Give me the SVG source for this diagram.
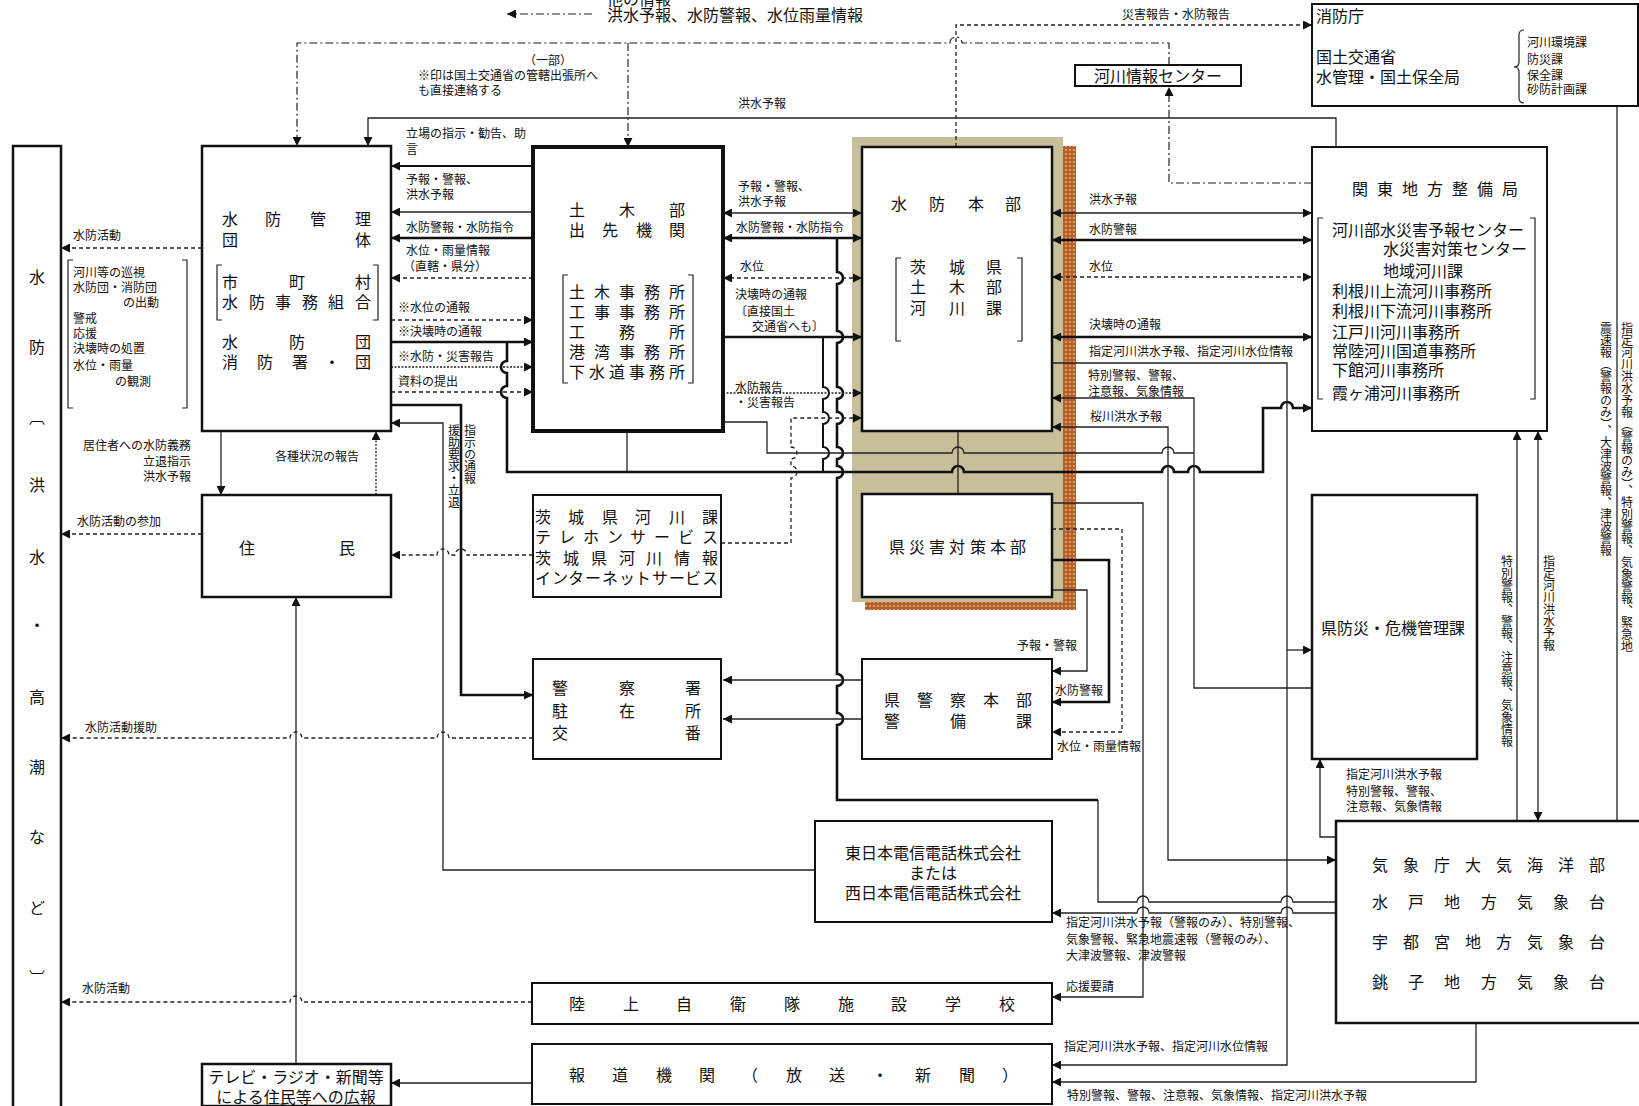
<svg xmlns="http://www.w3.org/2000/svg" width="1639" height="1106" viewBox="0 0 1639 1106">
<defs>
<style>
text{font-family:"Noto Sans CJK JP","Noto Sans CJK SC",sans-serif;fill:#111}
.b{font-size:16px}
.s{font-size:12px}
.v{writing-mode:vertical-rl}
.m{text-anchor:middle}
.box{fill:#fff;stroke:#111;stroke-width:2.5}
.bx2{fill:#fff;stroke:#111;stroke-width:2}
.bk{fill:none;stroke:#222;stroke-width:1.2}
.th{fill:none;stroke:#222;stroke-width:1.3}
.md{fill:none;stroke:#111;stroke-width:2}
.tk{fill:none;stroke:#111;stroke-width:2.6}
.ds{fill:none;stroke:#222;stroke-width:1.3;stroke-dasharray:4 3}
.dt{fill:none;stroke:#222;stroke-width:1.3;stroke-dasharray:2 1.5}
.dd{fill:none;stroke:#222;stroke-width:1.2;stroke-dasharray:8 3 2 3}
.e{marker-end:url(#ar)}
.st{marker-start:url(#ar)}
</style>
<marker id="ar" viewBox="0 0 10 10" refX="10" refY="5" markerWidth="10" markerHeight="9" markerUnits="userSpaceOnUse" orient="auto-start-reverse"><path d="M0,0L10,5L0,10z" fill="#111"/></marker>
<pattern id="brick" width="4" height="4" patternUnits="userSpaceOnUse"><rect width="4" height="4" fill="#b5602a"/><rect x="1" y="1" width="2" height="2" fill="#d99a6c"/></pattern>
</defs>
<rect width="1639" height="1106" fill="#fff"/>

<!-- legend -->
<g id="legend">
<text class="b" x="607" y="5">他の情報</text>
<text class="b" x="607" y="21">洪水予報、水防警報、水位雨量情報</text>
<path class="dd e" d="M592,14 H507"/>
</g>

<!-- background of 水防本部 -->
<g id="hq-bg">
<rect x="852" y="137" width="211" height="465" fill="#c7bf9a"/>
<rect x="1063" y="146" width="13" height="464" fill="url(#brick)"/>
<rect x="865" y="602" width="211" height="8" fill="url(#brick)"/>
</g>

<!-- connectors -->
<g id="connectors">
<path class="dd e" d="M1169,65 V43 H962 a6,6 0 0 0 -12,0 H297 V146"/>
<path class="dd e" d="M628,43 V147"/>
<path class="dd e" d="M1312,183 H1169 V87"/>
<path class="ds e" d="M956,147 V25 H1312"/>
<path class="th e" d="M1336,147 V118 H368 V146"/>
<path class="md e" d="M533,166 H391"/>
<path class="th e" d="M533,212 H391"/>
<path class="tk e" d="M533,238 H391"/>
<path class="ds e" d="M533,278 H391"/>
<path class="ds e" d="M391,320 H533"/>
<path class="tk e" d="M391,342 H533"/>
<path class="dt e" d="M391,367 H533"/>
<path class="ds e" d="M391,392 H533"/>
<path class="tk e" d="M507,342 V361 a6,6 0 0 0 0,12 V386 a6,6 0 0 0 0,12 V472 H952 a6,6 0 0 1 12,0 H1162 a6,6 0 0 1 12,0 H1188 a6,6 0 0 1 12,0 H1263 V408 H1281 a6,6 0 0 1 12,0 H1312"/>
<path class="th" d="M627,431 V472"/>
<path class="th e st" d="M723,213 H862"/>
<path class="tk e st" d="M723,238 H862"/>
<path class="ds e st" d="M723,278 H862"/>
<path class="tk e" d="M723,337 H862"/>
<path class="tk" d="M837,238 V272 a6,6 0 0 1 0,12 V331 a6,6 0 0 1 0,12 V387 a6,6 0 0 1 0,12 V412 a6,6 0 0 1 0,12 V447 a6,6 0 0 1 0,12 V466 a6,6 0 0 1 0,12 V674 a6,6 0 0 1 0,12 V713 a6,6 0 0 1 0,12 V800 H1098"/>
<path class="th e" d="M1098,800 V902 H1137 a6,6 0 0 1 12,0 H1281 a6,6 0 0 1 12,0 H1358"/>
<path class="md" d="M823,337 V387 a6,6 0 0 1 0,12 V412 a6,6 0 0 1 0,12 V447 a6,6 0 0 1 0,12 V472"/>
<path class="dt e" d="M723,393 H862"/>
<path class="th" d="M723,422 H767 V453 H952 a6,6 0 0 1 12,0 H1162 a6,6 0 0 1 12,0 H1194"/>
<path class="ds e" d="M721,543 H791 V478 a6,6 0 0 0 0,-12 V459 a6,6 0 0 0 0,-12 V418 H862"/>
<path class="ds e" d="M533,555 H467 a6,6 0 0 0 -12,0 H449 a6,6 0 0 0 -12,0 H391"/>
<path class="tk e" d="M391,405 H461 V695 H533"/>
<path class="th e" d="M815,870 H443 V423 H391"/>
<path class="ds e" d="M533,738 H449 a6,6 0 0 0 -12,0 H302 a6,6 0 0 0 -12,0 H61"/>
<path class="th e" d="M862,680 H723"/>
<path class="th e" d="M862,719 H723"/>
<path class="th e" d="M221,431 V495"/>
<path class="dt e" d="M376,495 V431"/>
<path class="ds e" d="M202,534 H61"/>
<path class="ds e" d="M202,248 H61"/>
<path class="ds e" d="M532,1002 H302 a6,6 0 0 0 -12,0 H61"/>
<path class="th e" d="M296,1064 V597"/>
<path class="th e" d="M532,1083 H391"/>
<path class="th e st" d="M1052,213 H1312"/>
<path class="tk e st" d="M1052,240 H1312"/>
<path class="ds e st" d="M1052,277 H1312"/>
<path class="tk e st" d="M1052,337 H1312"/>
<path class="th e" d="M1052,363 H1287 V1065 H1052"/>
<path class="th e" d="M1287,650 H1312"/>
<path class="th e" d="M1312,688 H1194 V398 H1052"/>
<path class="th e st" d="M1336,860 H1168 V427 H1052"/>
<path class="th" d="M958,431 V494"/>
<path class="th e" d="M1052,503 H1143 V997 H1052"/>
<path class="ds e" d="M1052,529 H1122 V732 H1052"/>
<path class="tk e" d="M1052,560 H1109 V702 H1052"/>
<path class="th e" d="M1052,590 H1087 V671 H1052"/>
<path class="th e" d="M1336,913 H1293 a6,6 0 0 0 -12,0 H1149 a6,6 0 0 0 -12,0 H1052"/>
<path class="th e" d="M1336,837 H1320 V759"/>
<path class="th e" d="M1517,821 V431"/>
<path class="th e st" d="M1538,821 V431"/>
<path class="th e" d="M1617,821 V27"/>
<path class="th e" d="M1476,1023 V1082 H1052"/>
</g>

<!-- connector labels -->
<g id="labels" class="s">
<text x="548" y="65" class="m">（一部）</text>
<text x="418" y="80">※印は国土交通省の管轄出張所へ</text>
<text x="418" y="95">も直接連絡する</text>
<text x="738" y="108">洪水予報</text>
<text x="1122" y="19">災害報告・水防報告</text>
<text x="73" y="240">水防活動</text>
<text x="73" y="277">河川等の巡視</text>
<text x="73" y="292">水防団・消防団</text>
<text x="123" y="307">の出動</text>
<text x="73" y="323">警戒</text>
<text x="73" y="338">応援</text>
<text x="73" y="353">決壊時の処置</text>
<text x="73" y="370">水位・雨量</text>
<text x="115" y="386">の観測</text>
<text x="406" y="138">立場の指示・勧告、助</text>
<text x="406" y="154">言</text>
<text x="406" y="184">予報・警報、</text>
<text x="406" y="199">洪水予報</text>
<text x="406" y="232">水防警報・水防指令</text>
<text x="406" y="255">水位・雨量情報</text>
<text x="403" y="271">（直轄・県分）</text>
<text x="398" y="312">※水位の通報</text>
<text x="398" y="336">※決壊時の通報</text>
<text x="398" y="361">※水防・災害報告</text>
<text x="398" y="386">資料の提出</text>
<text x="738" y="191">予報・警報、</text>
<text x="738" y="206">洪水予報</text>
<text x="736" y="232">水防警報・水防指令</text>
<text x="740" y="271">水位</text>
<text x="735" y="299">決壊時の通報</text>
<text x="735" y="316">〔直接国土</text>
<text x="752" y="331">交通省へも〕</text>
<text x="735" y="392">水防報告</text>
<text x="735" y="407">・災害報告</text>
<text x="454" y="424" class="v">援助要求・立退</text>
<text x="470" y="424" class="v">指示の通報</text>
<text x="83" y="450">居住者への水防義務</text>
<text x="143" y="466">立退指示</text>
<text x="143" y="481">洪水予報</text>
<text x="275" y="461">各種状況の報告</text>
<text x="77" y="526">水防活動の参加</text>
<text x="85" y="732">水防活動援助</text>
<text x="82" y="993">水防活動</text>
<text x="1089" y="204">洪水予報</text>
<text x="1089" y="234">水防警報</text>
<text x="1089" y="271">水位</text>
<text x="1089" y="329">決壊時の通報</text>
<text x="1089" y="356">指定河川洪水予報、指定河川水位情報</text>
<text x="1088" y="380">特別警報、警報、</text>
<text x="1088" y="396">注意報、気象情報</text>
<text x="1090" y="421">桜川洪水予報</text>
<text x="1017" y="650">予報・警報</text>
<text x="1055" y="695">水防警報</text>
<text x="1057" y="751">水位・雨量情報</text>
<text x="1066" y="927">指定河川洪水予報（警報のみ）、特別警報、</text>
<text x="1066" y="944">気象警報、緊急地震速報（警報のみ）、</text>
<text x="1066" y="960">大津波警報、津波警報</text>
<text x="1066" y="991">応援要請</text>
<text x="1064" y="1051">指定河川洪水予報、指定河川水位情報</text>
<text x="1067" y="1100">特別警報、警報、注意報、気象情報、指定河川洪水予報</text>
<text x="1346" y="779">指定河川洪水予報</text>
<text x="1346" y="796">特別警報、警報、</text>
<text x="1346" y="811">注意報、気象情報</text>
<text x="1507" y="555" class="v">特別警報、警報、注意報、気象情報</text>
<text x="1549" y="555" class="v">指定河川洪水予報</text>
<text x="1627" y="322" class="v">指定河川洪水予報（警報のみ）、特別警報、気象警報、緊急地</text>
<text x="1606" y="322" class="v">震速報（警報のみ）、大津波警報、津波警報</text>
</g>
<path class="bk" d="M73,260 h-5 v148 h5 M182,260 h5 v148 h-5"/>

<!-- nodes -->
<g id="n-suibo">
<rect class="box" x="13" y="146" width="48" height="962"/>
<g class="b m">
<text x="37" y="283">水</text><text x="37" y="353">防</text><text x="37" y="423">︹</text><text x="37" y="491">洪</text><text x="37" y="563">水</text><text x="37" y="631">・</text><text x="37" y="703">高</text><text x="37" y="773">潮</text><text x="37" y="843">な</text><text x="37" y="914">ど</text><text x="37" y="984">︺</text>
</g>
</g>

<g id="n-kanri">
<rect class="box" x="202" y="146" width="189" height="285"/>
<g class="b m">
<text x="230 273 318 363" y="225">水防管理</text>
<text x="230 363" y="246">団体</text>
<text x="230 297 363" y="288">市町村</text>
<text x="230 257 283 310 336 363" y="308">水防事務組合</text>
<text x="230 297 363" y="348">水防団</text>
<text x="230 265 300 332 363" y="368">消防署・団</text>
</g>
<path class="bk" d="M222,265 h-5 v55 h5 M373,265 h5 v55 h-5"/>
</g>

<g id="n-doboku">
<rect x="533" y="147" width="190" height="284" fill="#fff" stroke="#111" stroke-width="4"/>
<g class="b m">
<text x="577 627 677" y="216">土木部</text>
<text x="577 610 644 677" y="236">出先機関</text>
<text x="577 602 627 652 677" y="298">土木事務所</text>
<text x="577 602 627 652 677" y="318">工事事務所</text>
<text x="577 627 677" y="338">工務所</text>
<text x="577 602 627 652 677" y="358">港湾事務所</text>
<text x="577 597 617 637 657 677" y="378">下水道事務所</text>
</g>
<path class="bk" d="M568,275 h-5 v108 h5 M688,275 h5 v108 h-5"/>
</g>

<g id="n-honbu">
<rect class="box" x="862" y="147" width="190" height="284"/>
<g class="b m">
<text x="899 937 976 1013" y="210">水防本部</text>
<text x="918 957 994" y="273">茨城県</text>
<text x="918 957 994" y="293">土木部</text>
<text x="918 957 994" y="314">河川課</text>
</g>
<path class="bk" d="M901,258 h-5 v83 h5 M1017,258 h5 v83 h-5"/>
</g>

<g id="n-saigai">
<rect class="box" x="862" y="494" width="190" height="103"/>
<text class="b m" x="897 917 937 957 978 998 1018" y="553">県災害対策本部</text>
</g>

<g id="n-kanto">
<rect class="bx2" x="1312" y="147" width="235" height="284"/>
<text class="b m" x="1360 1385 1410 1435 1460 1485 1510" y="195">関東地方整備局</text>
<path class="bk" d="M1323,218 h-5 v181 h5 M1530,218 h5 v181 h-5"/>
<g class="b">
<text x="1332" y="236">河川部水災害予報センター</text>
<text x="1383" y="255">水災害対策センター</text>
<text x="1383" y="277">地域河川課</text>
<text x="1332" y="297">利根川上流河川事務所</text>
<text x="1332" y="317">利根川下流河川事務所</text>
<text x="1332" y="338">江戸川河川事務所</text>
<text x="1332" y="357">常陸河川国道事務所</text>
<text x="1332" y="376">下館河川事務所</text>
<text x="1332" y="399">霞ヶ浦河川事務所</text>
</g>
</g>

<g id="n-shobo">
<rect class="bx2" x="1312" y="4" width="326" height="102"/>
<text class="b" x="1316" y="22">消防庁</text>
<text class="b" x="1316" y="63">国土交通省</text>
<text class="b" x="1316" y="83">水管理・国土保全局</text>
<path class="bk" d="M1524,30 q-5,0 -5,5 v27 q0,5 -5,5 q5,0 5,5 v26 q0,5 5,5"/>
<g class="s">
<text x="1527" y="47">河川環境課</text>
<text x="1527" y="64">防災課</text>
<text x="1527" y="80">保全課</text>
<text x="1527" y="94">砂防計画課</text>
</g>
</g>

<g id="n-center">
<rect class="bx2" x="1075" y="65" width="166" height="21"/>
<text class="b m" x="1158" y="82">河川情報センター</text>
</g>

<g id="n-jumin">
<rect class="box" x="202" y="495" width="189" height="102"/>
<text class="b m" x="247 347" y="554">住民</text>
</g>

<g id="n-tel">
<rect class="bx2" x="533" y="495" width="188" height="102"/>
<g class="b m">
<text x="543 576 610 643 677 710" y="523">茨城県河川課</text>
<text x="543 567 591 615 638 662 686 710" y="543">テレホンサービス</text>
<text x="543 571 599 627 654 682 710" y="564">茨城県河川情報</text>
<text x="543 560 576 593 610 627 643 660 677 693 710" y="584">インターネットサービス</text>
</g>
</g>

<g id="n-police">
<rect class="bx2" x="533" y="659" width="188" height="100"/>
<g class="b m">
<text x="560 627 693" y="694">警察署</text>
<text x="560 627 693" y="717">駐在所</text>
<text x="560 693" y="739">交番</text>
</g>
</g>

<g id="n-kenkei">
<rect class="bx2" x="862" y="659" width="190" height="100"/>
<g class="b m">
<text x="892 925 958 991 1024" y="706">県警察本部</text>
<text x="892 958 1024" y="727">警備課</text>
</g>
</g>

<g id="n-bosai">
<rect class="box" x="1312" y="495" width="165" height="264"/>
<text class="b m" x="1393" y="634">県防災・危機管理課</text>
</g>

<g id="n-ntt">
<rect class="bx2" x="815" y="821" width="237" height="101"/>
<g class="b m">
<text x="933" y="859">東日本電信電話株式会社</text>
<text x="933" y="879">または</text>
<text x="933" y="899">西日本電信電話株式会社</text>
</g>
</g>

<g id="n-kisho">
<rect class="box" x="1336" y="821" width="320" height="202"/>
<g class="b m">
<text x="1380 1411 1442 1473 1504 1535 1566 1597" y="871">気象庁大気海洋部</text>
<text x="1380 1416 1452 1489 1525 1561 1597" y="908">水戸地方気象台</text>
<text x="1380 1411 1442 1473 1504 1535 1566 1597" y="948">宇都宮地方気象台</text>
<text x="1380 1416 1452 1489 1525 1561 1597" y="988">銚子地方気象台</text>
</g>
</g>

<g id="n-jieitai">
<rect class="bx2" x="532" y="983" width="520" height="41"/>
<text class="b m" x="577 631 684 738 792 846 899 953 1007" y="1010">陸上自衛隊施設学校</text>
</g>

<g id="n-hodo">
<rect class="bx2" x="532" y="1044" width="520" height="60"/>
<text class="b m" x="577 620 664 707 750 794 837 880 923 967 1010" y="1081">報道機関（放送・新聞）</text>
</g>

<g id="n-tv">
<rect class="box" x="202" y="1064" width="189" height="42"/>
<g class="b m">
<text x="296" y="1083">テレビ・ラジオ・新聞等</text>
<text x="296" y="1103">による住民等への広報</text>
</g>
</g>
</svg>
